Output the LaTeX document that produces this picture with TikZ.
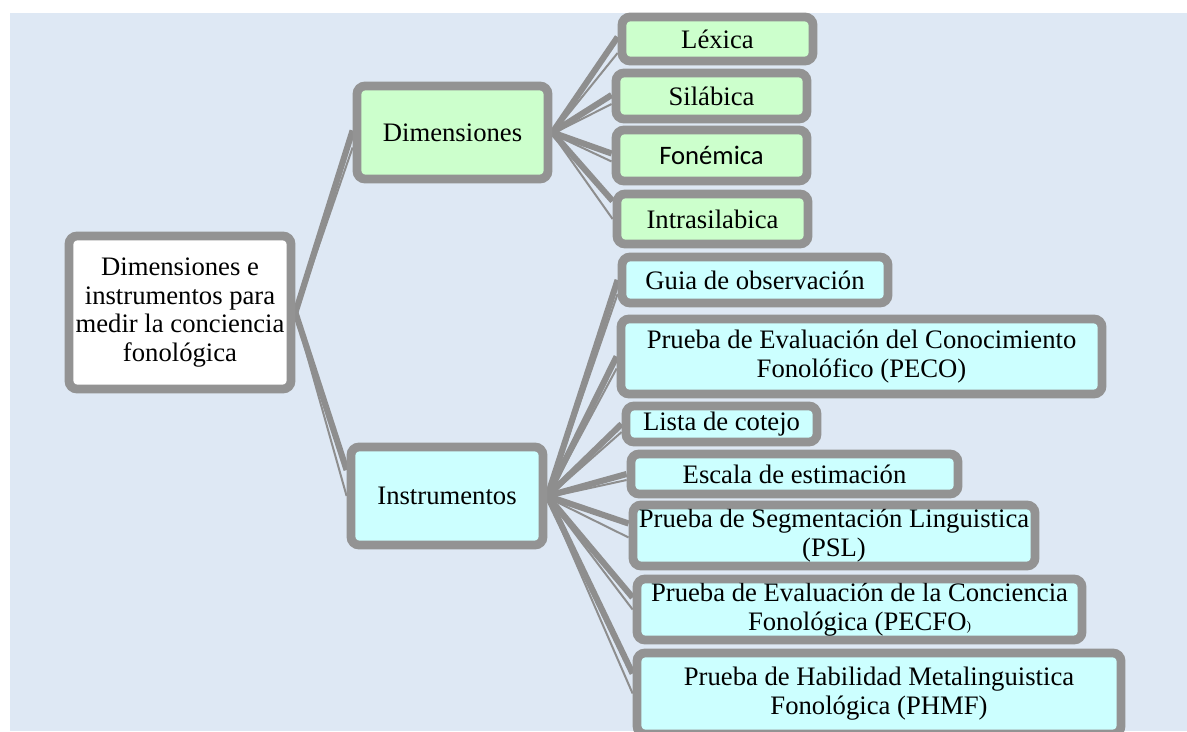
\documentclass[tikz,border=0pt]{standalone}
\usepackage{fontspec}
\setmainfont{Liberation Serif}
\newfontfamily\calib{Carlito}
\pgfdeclarelayer{bglayer}
\pgfdeclarelayer{connlayer}
\pgfsetlayers{bglayer,connlayer,main}
\definecolor{bgc}{HTML}{DEE8F4}
\definecolor{bord}{HTML}{939393}
\definecolor{connc}{HTML}{8E8E8E}
\definecolor{gfill}{HTML}{CCFFCC}
\definecolor{cfill}{HTML}{CCFFFF}
\tikzset{
  box/.style={draw=bord, line width=6.6pt, rounded corners=6pt, inner sep=0pt,
    align=center, text=black, font=\fontsize{20}{21.5}\selectfont},
  gbox/.style={box, fill=gfill},
  cbox/.style={box, fill=cfill},
  wbox/.style={box, fill=white},
  innerline/.style={draw=bord, line width=1.1pt, rounded corners=2.5pt},
  thickc/.style={draw=connc, line width=4.6pt},
  thinc/.style={draw=connc, line width=1.5pt},
}
\newcommand{\innerbox}[1]{\draw[innerline] ([xshift=5.4pt,yshift=-5.4pt]#1.north west) rectangle ([xshift=-5.4pt,yshift=5.4pt]#1.south east);}
\newcommand{\conn}[4]{%
  \draw[thickc] (#1.east) -- ([yshift=-#3*0.75pt]#2.west);
  \draw[thinc] ([yshift=-1pt]#1.east) -- ([yshift=-#4*0.75pt]#2.west);}
\begin{document}
\begin{tikzpicture}[x=0.75pt,y=-0.75pt]
\useasboundingbox (0,0) rectangle (1187,731);
\begin{pgfonlayer}{bglayer}
\fill[bgc] (10,13) rectangle (1187,731);
\end{pgfonlayer}
\node[wbox, minimum width=166.5pt, minimum height=114.75pt] (root) at (180,312.5) {Dimensiones e\\instrumentos para\\medir la conciencia\\fonológica};
\node[gbox, minimum width=143.25pt, minimum height=69.75pt] (dim) at (452.5,132.5) {Dimensiones};
\node[cbox, minimum width=144pt, minimum height=73.5pt] (ins) at (447,496) {Instrumentos};
\node[gbox, minimum width=143.25pt, minimum height=33pt] (lex) at (717.5,39) {Léxica};
\node[gbox, minimum width=143.25pt, minimum height=34.5pt] (sil) at (711.5,96) {Silábica};
\node[gbox, minimum width=143.25pt, minimum height=38.25pt] (fon) at (711.5,155.5) {\calib Fonémica};
\node[gbox, minimum width=143.25pt, minimum height=37.5pt] (intra) at (712.5,219) {Intrasilabica};
\node[cbox, minimum width=199.5pt, minimum height=34.5pt] (guia) at (755,280) {Guia de observación};
\node[cbox, minimum width=360.75pt, minimum height=56.25pt] (peco) at (861.5,356.5) {Prueba de Evaluación del Conocimiento\\Fonolófico (PECO)};
\node[cbox, minimum width=143.25pt, minimum height=27pt] (lista) at (721.5,424) {Lista de cotejo};
\node[cbox, minimum width=245.25pt, minimum height=30pt] (escala) at (794.5,474) {Escala de estimación};
\node[cbox, minimum width=301.5pt, minimum height=45.75pt] (psl) at (834,535.5) {Prueba de Segmentación Linguistica\\(PSL)};
\node[cbox, minimum width=333.75pt, minimum height=45.75pt] (pecfo) at (859.5,609.5) {Prueba de Evaluación de la Conciencia\\Fonológica (PECFO{\fontsize{10}{10}\selectfont )}};
\node[cbox, minimum width=363pt, minimum height=60.75pt] (phmf) at (879,693.5) {Prueba de Habilidad Metalinguistica\\Fonológica (PHMF)};
\foreach \n in {root,dim,ins,lex,sil,fon,intra,guia,peco,lista,escala,psl,pecfo,phmf}{\innerbox{\n}}
\begin{pgfonlayer}{connlayer}
\conn{root}{dim}{-2}{15}
\conn{root}{ins}{-26}{0}
\conn{dim}{lex}{-2}{14}
\conn{dim}{sil}{-1}{8}
\conn{dim}{fon}{-2}{6}
\conn{dim}{intra}{-18}{0}
\conn{ins}{guia}{0}{14}
\conn{ins}{peco}{0}{12}
\conn{ins}{lista}{0}{8}
\conn{ins}{escala}{0}{6}
\conn{ins}{psl}{-12}{2}
\conn{ins}{pecfo}{-12}{0}
\conn{ins}{phmf}{-20}{0}
\end{pgfonlayer}
\end{tikzpicture}
\end{document}
